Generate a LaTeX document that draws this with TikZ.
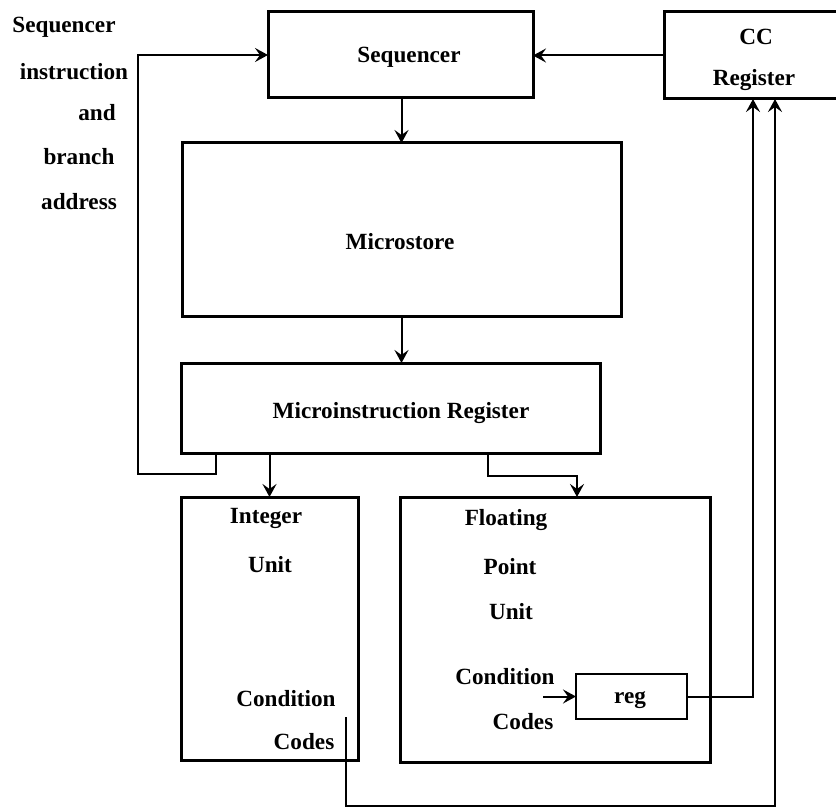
\documentclass[tikz,border=0pt]{standalone}
\usepackage{fontspec}
\setmainfont{Liberation Serif}
\usetikzlibrary{arrows.meta}
\begin{document}
\begin{tikzpicture}[x=0.5pt,y=-0.5pt,
  box/.style={draw,line width=1.5pt,inner sep=0pt,outer sep=0pt},
  thinbox/.style={draw,line width=1pt,inner sep=0pt,outer sep=0pt},
  lbl/.style={inner sep=0pt,font=\fontsize{11.6}{13}\selectfont\bfseries},
  arr/.style={line width=1pt,-{Stealth[length=6.5pt,width=7pt,inset=2.5pt]}}]
\useasboundingbox (0,0) rectangle (836,808);

% functional blocks
\node[box,minimum width=132.5pt,minimum height=43pt] (seq) at (400.5,55) {};
\node[box,minimum width=88pt,minimum height=43.5pt] (cc) at (752,55.5) {};
\node[box,minimum width=219.5pt,minimum height=86.5pt] (ms) at (401.5,229.5) {};
\node[box,minimum width=209.5pt,minimum height=45pt] (mir) at (390.5,408) {};
\node[box,minimum width=88.5pt,minimum height=131.5pt] (int) at (269.5,628.5) {};
\node[box,minimum width=155pt,minimum height=132.5pt] (fpu) at (555,629.5) {};
\node[thinbox,minimum width=55.5pt,minimum height=22.5pt] (reg) at (631.5,696.5) {};

% labels
\node[lbl] (tseq) at (409,57) {Sequencer};
\node[lbl] (tcc1) at (756,37) {CC};
\node[lbl] (tcc2) at (754,80) {Register};
\node[lbl] (tms) at (400,242) {Microstore};
\node[lbl] (tmir) at (401,413) {Microinstruction Register};
\node[lbl] (tint1) at (266,518) {Integer};
\node[lbl] (tint2) at (270,565) {Unit};
\node[lbl] (tint3) at (286,699) {Condition};
\node[lbl] (tint4) at (304,742) {Codes};
\node[lbl] (tfp1) at (506,520) {Floating};
\node[lbl] (tfp2) at (510,567) {Point};
\node[lbl] (tfp3) at (511,612) {Unit};
\node[lbl] (tfp4) at (505,677) {Condition};
\node[lbl] (tfp5) at (523,722) {Codes};
\node[lbl] (treg) at (630,700) {reg};
\node[lbl] (ts1) at (64,27) {Sequencer};
\node[lbl] (ts2) at (74,72) {instruction};
\node[lbl] (ts3) at (97,113) {and};
\node[lbl] (ts4) at (79,157) {branch};
\node[lbl] (ts5) at (79,202) {address};

% routing points
\coordinate (fbdrop) at (216,474);
\coordinate (fbcorner) at (138,474);
\coordinate (fsplit) at (488,476);
\coordinate (fdrop) at (577,476);
\coordinate (regup) at (753,0);
\coordinate (icc) at (346,717);
\coordinate (ccret) at (775,806);
\coordinate (fcc) at (543,696.5);

% connectors
\draw[arr] (seq.south -| ms.north) -- (ms.north);
\draw[arr] (ms.south) -- (ms.south |- mir.north);
\draw[arr] (mir.south -| int.north) -- (int.north);
\draw[arr] (mir.south -| fsplit) -- (fsplit) -- (fdrop) -- (fdrop |- fpu.north);
\draw[arr] (mir.south -| fbdrop) -- (fbdrop) -- (fbcorner) |- (seq.west);
\draw[arr] (cc.west) -- (cc.west -| seq.east);
\draw[arr] (reg.east) -| (cc.south -| regup);
\draw[arr] (icc) |- (ccret) -- (cc.south -| ccret);
\draw[arr] (fcc) -- (reg.west);
\end{tikzpicture}
\end{document}
